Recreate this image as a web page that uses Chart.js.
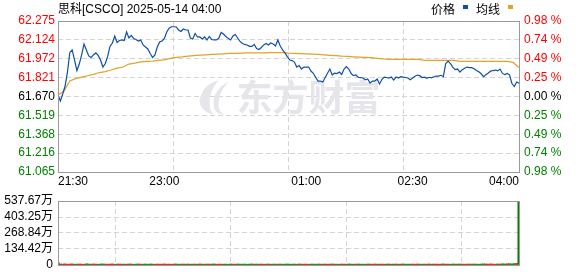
<!DOCTYPE html>
<html>
<head>
<meta charset="utf-8">
<script src="https://cdn.jsdelivr.net/npm/chart.js@4"></script>
<style>
html, body { margin: 0; padding: 0; background: #fff; }
#wrap { position: relative; width: 578px; height: 276px; }
#priceChart { position: absolute; left: 0; top: 0; }
#volumeChart { position: absolute; left: 0; top: 190px; }
</style>
</head>
<body>
<div id="wrap">
  <canvas id="priceChart" width="578" height="190"></canvas>
  <canvas id="volumeChart" width="578" height="86"></canvas>
</div>
<script>
// header
const title = '思科[CSCO] 2025-05-14 04:00';
const legendNames = ['价格', '均线'];
const prevClose = 61.670;

// time axis: minutes since 21:30
const sessionMinutes = 390;
const timeLabels = ['21:30', '23:00', '01:00', '02:30', '04:00'];
const timeLabelMinutes = [0, 90, 210, 300, 390];
const priceStep = 2;   // minutes between price / volume points
const avgStep = 5;     // minutes between average points

// axis ticks
const priceTicks = [62.275, 62.124, 61.972, 61.821, 61.670, 61.519, 61.368, 61.216, 61.065];
const priceTickLabels = ['62.275', '62.124', '61.972', '61.821', '61.670', '61.519', '61.368', '61.216', '61.065'];
const pctTickLabels = ['0.98 %', '0.74 %', '0.49 %', '0.25 %', '0.00 %', '0.25 %', '0.49 %', '0.74 %', '0.98 %'];
const volumeTicks = [0, 134.42, 268.84, 403.25, 537.67];
const volumeTickLabels = ['0', '134.42万', '268.84万', '403.25万', '537.67万'];

// price, every 2 minutes
const price = [
  61.682, 61.634, 61.690, 61.754, 61.866, 62.023, 62.043, 61.962, 61.878, 61.930, 62.003, 62.091, 62.043, 61.995,
  61.983, 62.003, 62.019, 61.999, 61.962, 61.906, 61.934, 61.991, 62.071, 62.099, 62.155, 62.103, 62.119, 62.123,
  62.119, 62.187, 62.139, 62.159, 62.135, 62.127, 62.115, 62.123, 62.083, 62.067, 62.051, 62.015, 61.983, 62.003,
  62.067, 62.107, 62.115, 62.135, 62.187, 62.217, 62.229, 62.229, 62.227, 62.203, 62.191, 62.211, 62.203, 62.203,
  62.139, 62.131, 62.175, 62.147, 62.147, 62.131, 62.147, 62.123, 62.151, 62.127, 62.123, 62.123, 62.136, 62.183,
  62.171, 62.151, 62.136, 62.123, 62.155, 62.167, 62.139, 62.111, 62.095, 62.087, 62.083, 62.072, 62.071, 62.088,
  62.055, 62.047, 62.063, 62.083, 62.095, 62.083, 62.099, 62.091, 62.075, 62.123, 62.075, 62.043, 62.019, 61.989,
  61.962, 61.958, 61.946, 61.906, 61.918, 61.890, 61.906, 61.906, 61.906, 61.874, 61.856, 61.822, 61.794, 61.794,
  61.786, 61.822, 61.856, 61.890, 61.842, 61.858, 61.854, 61.866, 61.846, 61.890, 61.909, 61.890, 61.854, 61.837,
  61.842, 61.824, 61.822, 61.818, 61.804, 61.810, 61.778, 61.794, 61.794, 61.810, 61.770, 61.806, 61.825, 61.822,
  61.818, 61.826, 61.802, 61.826, 61.818, 61.829, 61.825, 61.822, 61.818, 61.805, 61.818, 61.833, 61.842, 61.837,
  61.822, 61.825, 61.816, 61.824, 61.820, 61.828, 61.834, 61.834, 61.840, 61.829, 61.934, 61.954, 61.933, 61.906,
  61.885, 61.890, 61.866, 61.885, 61.896, 61.906, 61.901, 61.901, 61.893, 61.879, 61.868, 61.852, 61.829, 61.844,
  61.858, 61.873, 61.878, 61.882, 61.875, 61.890, 61.855, 61.845, 61.854, 61.844, 61.774, 61.750, 61.786, 61.776
];

// average price line, every 5 minutes
const avgPrice = [
  61.682, 61.712, 61.794, 61.813, 61.825, 61.836, 61.847, 61.862, 61.870, 61.882,
  61.897, 61.906, 61.930, 61.938, 61.948, 61.951, 61.954, 61.959, 61.964, 61.975,
  61.984, 61.987, 61.993, 61.998, 62.001, 62.004, 62.007, 62.010, 62.012, 62.015,
  62.016, 62.017, 62.019, 62.019, 62.020, 62.020, 62.021, 62.021, 62.021, 62.017,
  62.016, 62.014, 62.011, 62.009, 62.007, 62.003, 62.000, 61.997, 61.993, 61.991,
  61.988, 61.986, 61.984, 61.981, 61.976, 61.971, 61.968, 61.968, 61.968, 61.968,
  61.968, 61.968, 61.960, 61.960, 61.960, 61.960, 61.960, 61.960, 61.952, 61.952,
  61.952, 61.952, 61.952, 61.952, 61.952, 61.952, 61.952, 61.943, 61.902
];

// volume in 万 shares, every 2 minutes
const volume = [
  22.1, 8.4, 7.1, 9.2, 6.8, 7.7, 8.9, 6.5, 7.3, 8.1, 7.0, 6.6, 9.4, 7.8,
  6.9, 8.2, 7.5, 6.4, 7.9, 8.6, 7.2, 6.7, 7.4, 8.8, 6.3, 7.6, 8.0, 6.9,
  7.1, 6.5, 8.3, 7.7, 6.2, 7.4, 8.5, 6.8, 7.0, 7.9, 6.6, 8.1, 7.3, 6.4,
  7.8, 6.9, 7.2, 8.4, 6.7, 7.5, 6.1, 7.9, 8.2, 6.6, 7.1, 7.6, 6.8, 8.0,
  6.3, 7.4, 7.0, 6.7, 8.3, 7.2, 6.5, 7.8, 6.9, 7.3, 8.6, 6.4, 7.5, 7.1,
  6.8, 7.6, 6.2, 7.9, 7.3, 6.6, 8.1, 7.0, 6.9, 7.7, 6.4, 7.2, 8.4, 6.7,
  7.5, 6.9, 7.8, 6.3, 7.1, 8.0, 6.6, 7.4, 7.2, 6.8, 7.9, 6.5, 7.3, 8.2,
  6.7, 7.0, 7.6, 6.4, 8.3, 7.1, 6.9, 7.5, 6.2, 7.8, 7.3, 6.6, 8.0, 7.2,
  6.8, 7.7, 6.5, 7.4, 8.1, 6.9, 7.2, 6.3, 7.9, 7.0, 6.7, 8.5, 7.4, 6.6,
  7.3, 8.0, 6.8, 7.1, 6.5, 7.8, 7.5, 6.4, 8.2, 7.0, 6.9, 7.6, 6.7, 7.3,
  8.1, 6.6, 7.2, 7.9, 6.3, 7.4, 8.4, 6.8, 7.1, 6.9, 7.7, 6.5, 8.0, 7.2,
  6.7, 7.5, 7.0, 8.3, 6.4, 7.8, 7.1, 6.6, 7.4, 8.6, 6.9, 7.3, 6.5, 7.9,
  7.6, 6.8, 8.2, 7.0, 6.6, 7.4, 7.7, 6.9, 8.0, 7.2, 6.5, 7.8, 9.1, 8.4,
  7.3, 8.8, 7.5, 6.9, 8.1, 7.7, 9.3, 8.5, 9.8, 10.4, 8.9, 11.2, 12.6, 537.67
];

const upColor = '#ff0000';
const downColor = '#008000';
const priceColor = '#0f4fa6';
const avgColor = '#e0a426';
const gridColor = '#d4d4d4';
const frameColor = '#9a9a9a';
const fontFamily = '"Liberation Sans", Arial, "Noto Sans CJK SC", sans-serif';
const tickFont = { family: fontFamily, size: 12, lineHeight: 1 };
const quarters = [0, 1, 2, 3, 4].map(k => sessionMinutes * k / 4);

function setTicks(values) {
  return scale => { scale.ticks = values.map(v => ({ value: v })); };
}

function priceTickColor(ctx) {
  const v = ctx.tick.value;
  if (Math.abs(v - prevClose) < 0.0005) return '#000000';
  return v > prevClose ? upColor : downColor;
}

const frame = {
  id: 'frame',
  afterDatasetsDraw(chart) {
    const a = chart.chartArea, ctx = chart.ctx;
    ctx.save();
    ctx.strokeStyle = frameColor;
    ctx.lineWidth = 1;
    ctx.strokeRect(Math.round(a.left) + 0.5, Math.round(a.top) + 0.5,
      Math.round(a.right - a.left), Math.round(a.bottom - a.top));
    ctx.restore();
  }
};

const watermark = {
  id: 'watermark',
  beforeDatasetsDraw(chart) {
    const a = chart.chartArea, ctx = chart.ctx;
    const cx = (a.left + a.right) / 2, cy = (a.top + a.bottom) / 2;
    const lx = cx - 91, ly = cy - 17;
    ctx.save();
    ctx.fillStyle = '#e5e5ea';
    // logo blades
    ctx.beginPath();
    ctx.moveTo(lx + 2, ly + 21);
    ctx.quadraticCurveTo(lx + 5, ly + 5, lx + 21, ly + 1);
    ctx.quadraticCurveTo(lx + 12, ly + 11, lx + 12, ly + 23);
    ctx.quadraticCurveTo(lx + 12, ly + 31, lx + 16, ly + 35);
    ctx.quadraticCurveTo(lx + 3, ly + 32, lx + 2, ly + 21);
    ctx.closePath();
    ctx.fill();
    ctx.beginPath();
    ctx.moveTo(lx + 31, ly + 2);
    ctx.quadraticCurveTo(lx + 20, ly + 14, lx + 21, ly + 27);
    ctx.quadraticCurveTo(lx + 22, ly + 33, lx + 27, ly + 35);
    ctx.quadraticCurveTo(lx + 16, ly + 35, lx + 16, ly + 24);
    ctx.quadraticCurveTo(lx + 16, ly + 10, lx + 31, ly + 2);
    ctx.closePath();
    ctx.fill();
    ctx.font = 'bold 36px "Noto Sans CJK SC", sans-serif';
    ctx.textBaseline = 'middle';
    ctx.fillText('东方财富', cx - 52, cy + 1);
    ctx.restore();
  }
};

const header = {
  id: 'header',
  afterDraw(chart) {
    const ctx = chart.ctx;
    ctx.save();
    ctx.font = '12px ' + fontFamily;
    ctx.fillStyle = '#000';
    ctx.textBaseline = 'alphabetic';
    ctx.fillText(title, 58, 13);
    ctx.fillText(legendNames[0], 431, 14);
    ctx.fillText(legendNames[1], 476, 14);
    ctx.fillStyle = priceColor;
    ctx.fillRect(463, 5, 5, 4);
    ctx.fillStyle = avgColor;
    ctx.fillRect(508, 5, 5, 4);
    ctx.restore();
  }
};

const gridX = {
  type: 'linear', min: 0, max: sessionMinutes, offset: false, weight: 0,
  afterBuildTicks: setTicks(quarters),
  afterFit: s => { s.height = 0; },
  ticks: { display: false },
  grid: { color: gridColor, drawTicks: false },
  border: { display: false, dash: [5, 3] }
};

new Chart(document.getElementById('priceChart'), {
  type: 'line',
  data: {
    datasets: [
      {
        label: legendNames[0],
        data: price.map((p, i) => ({ x: i * priceStep, y: p })),
        borderColor: priceColor, borderWidth: 1.2, pointRadius: 0, tension: 0, clip: 0
      },
      {
        label: legendNames[1],
        data: avgPrice.map((p, i) => ({ x: i * avgStep, y: p })),
        borderColor: avgColor, borderWidth: 1.2, pointRadius: 0, tension: 0, clip: 0
      }
    ]
  },
  options: {
    responsive: false,
    animation: false,
    events: [],
    layout: { padding: { top: 21, left: 0, right: 0, bottom: 0 } },
    plugins: { legend: { display: false }, tooltip: { enabled: false } },
    scales: {
      x: gridX,
      xl: {
        type: 'linear', position: 'bottom', min: 0, max: sessionMinutes, weight: 1,
        afterBuildTicks: setTicks(timeLabelMinutes),
        afterFit: s => { s.height = 18; },
        grid: { display: false, drawTicks: false },
        border: { display: false },
        ticks: {
          align: 'inner', maxRotation: 0, autoSkip: false, padding: 4,
          color: '#000', font: tickFont,
          callback: (v, i) => timeLabels[i]
        }
      },
      y: {
        type: 'linear', position: 'left', min: priceTicks[8], max: priceTicks[0],
        afterBuildTicks: setTicks(priceTicks),
        afterFit: s => { s.width = 58; },
        grid: { color: gridColor, drawTicks: false },
        border: { display: false, dash: [5, 3] },
        ticks: {
          autoSkip: false, padding: 3, font: tickFont, color: priceTickColor,
          callback: (v, i) => priceTickLabels[i]
        }
      },
      yr: {
        type: 'linear', position: 'right', min: priceTicks[8], max: priceTicks[0],
        afterBuildTicks: setTicks(priceTicks),
        afterFit: s => { s.width = 59; },
        grid: { display: false, drawTicks: false },
        border: { display: false },
        ticks: {
          autoSkip: false, padding: 5, font: tickFont, color: priceTickColor,
          callback: (v, i) => pctTickLabels[i]
        }
      }
    }
  },
  plugins: [watermark, frame, header]
});

const volumeColors = volume.map((v, i) =>
  price[i] >= (i ? price[i - 1] : prevClose) ? upColor : downColor);

new Chart(document.getElementById('volumeChart'), {
  type: 'bar',
  data: {
    datasets: [{
      data: volume.map((v, i) => ({ x: i * priceStep, y: v })),
      backgroundColor: volumeColors,
      borderWidth: 0,
      barPercentage: 1,
      categoryPercentage: 1,
      clip: 0
    }]
  },
  options: {
    responsive: false,
    animation: false,
    events: [],
    layout: { padding: { top: 7, left: 0, right: 59, bottom: 6 } },
    plugins: { legend: { display: false }, tooltip: { enabled: false } },
    scales: {
      x: gridX,
      y: {
        type: 'linear', position: 'left', min: 0, max: volumeTicks[4],
        afterBuildTicks: setTicks(volumeTicks),
        afterFit: s => { s.width = 58; },
        grid: { color: gridColor, drawTicks: false },
        border: { display: false, dash: [5, 3] },
        ticks: {
          autoSkip: false, padding: 5, font: tickFont, color: '#000',
          callback: (v, i) => volumeTickLabels[i]
        }
      }
    }
  },
  plugins: [frame]
});
</script>
</body>
</html>
